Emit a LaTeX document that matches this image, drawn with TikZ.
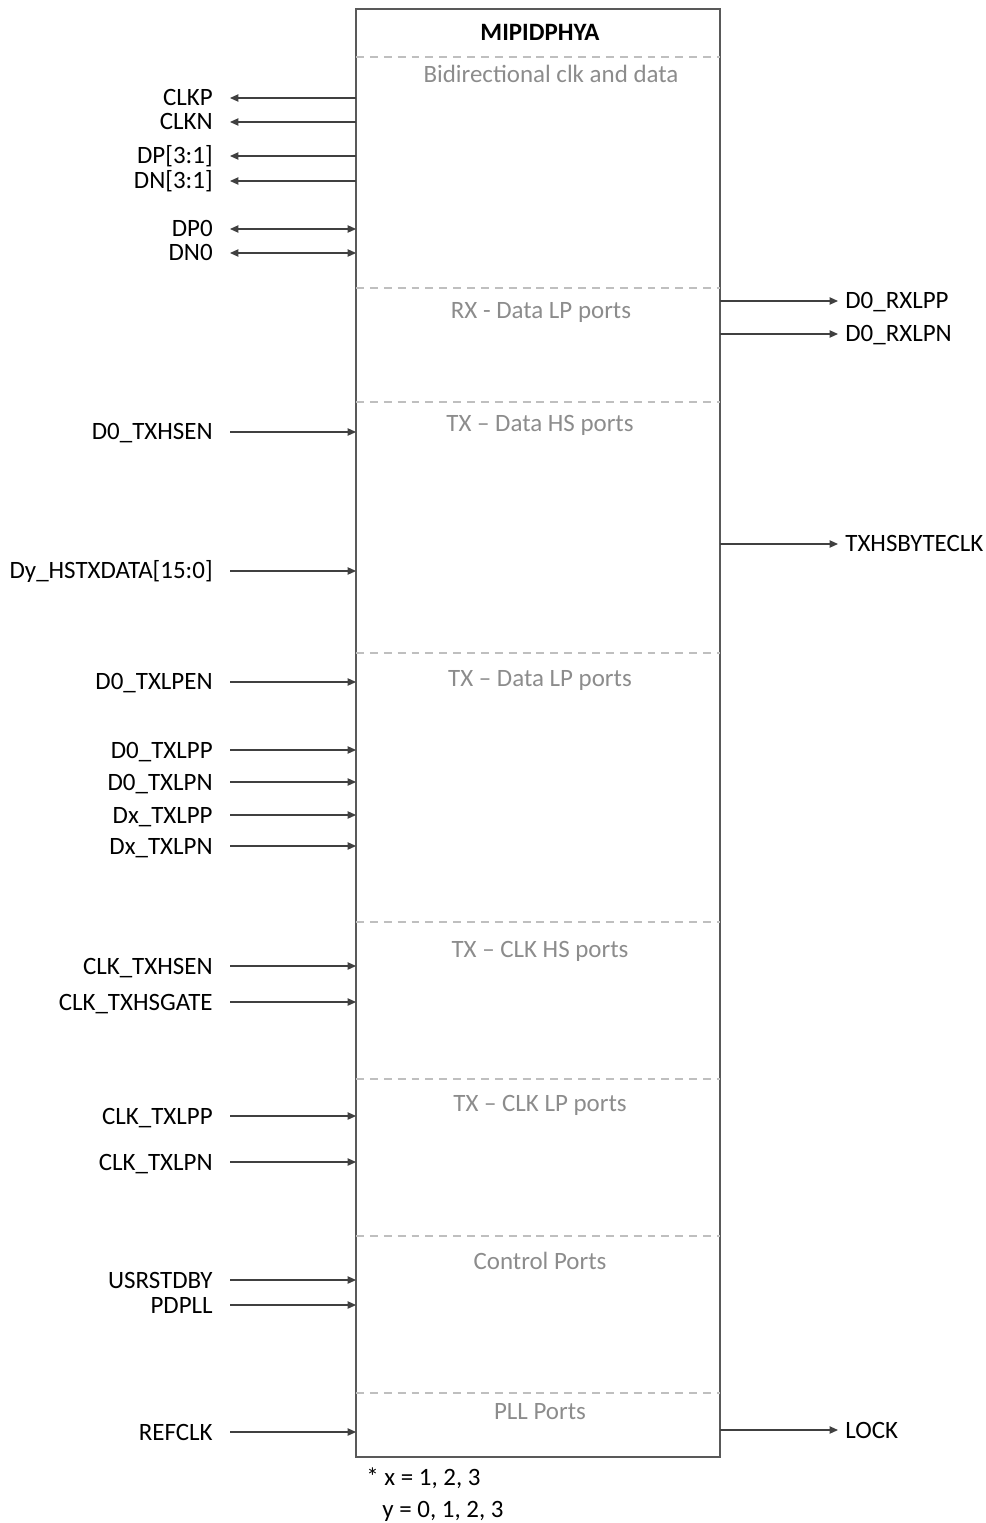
\documentclass[tikz,border=0pt]{standalone}
\usepackage{fontspec}
\setmainfont{Carlito}
\usetikzlibrary{arrows.meta, positioning}

\definecolor{boxline}{HTML}{595959}
\definecolor{sigline}{HTML}{404040}
\definecolor{dashgray}{HTML}{BFBFBF}
\definecolor{secgray}{HTML}{8C8C8C}

\tikzset{
    txt/.style={font=\fontsize{14.2}{16}\selectfont, inner sep=0pt, text height=9.1pt, text depth=0pt},
    lport/.style={txt, anchor=east, inner xsep=0.34cm},
    rport/.style={txt, anchor=west, inner xsep=0.14cm},
    section/.style={txt, text=secgray},
    divider/.style={dashgray, line width=0.8pt, dash pattern=on 4.5pt off 3.4pt},
    sig/.style={sigline, line width=0.7pt, >={Triangle[length=4.8pt, width=4.2pt]}}
}

\begin{document}
\begin{tikzpicture}[x=0.02cm, y=-0.02cm]
        \useasboundingbox (0,0) rectangle (986,1523);

        % The block
        \node[draw=boxline, line width=0.85pt, inner sep=0pt, outer sep=0pt,
              minimum width=7.28cm, minimum height=28.96cm] (phy) at (538,733) {};
        \node[txt, font=\fontsize{14.2}{16}\selectfont\bfseries] (title) at (540,33) {MIPIDPHYA};

        % Sections
        \draw[divider] (phy.west |- 0,57) -- (phy.east |- 0,57);
        \draw[divider] (phy.west |- 0,288) -- (phy.east |- 0,288);
        \draw[divider] (phy.west |- 0,402) -- (phy.east |- 0,402);
        \draw[divider] (phy.west |- 0,653) -- (phy.east |- 0,653);
        \draw[divider] (phy.west |- 0,922) -- (phy.east |- 0,922);
        \draw[divider] (phy.west |- 0,1079) -- (phy.east |- 0,1079);
        \draw[divider] (phy.west |- 0,1236) -- (phy.east |- 0,1236);
        \draw[divider] (phy.west |- 0,1393) -- (phy.east |- 0,1393);

        \node[section] (bidir) at (551,75) {Bidirectional clk and data};
        \node[section] (rxlp) at (541,311) {RX - Data LP ports};
        \node[section] (txhs) at (540,424) {TX -- Data HS ports};
        \node[section] (txlp) at (540,679) {TX -- Data LP ports};
        \node[section] (clkhs) at (540,949) {TX -- CLK HS ports};
        \node[section] (clklp) at (540,1103) {TX -- CLK LP ports};
        \node[section] (ctrl) at (540,1261) {Control Ports};
        \node[section] (pll) at (540,1411) {PLL Ports};

        % Left ports
        \node[lport] (CLKP) at (230,98) {CLKP};
        \node[lport] (CLKN) at (230,122) {CLKN};
        \node[lport] (DPx) at (230,156) {DP[3:1]};
        \node[lport] (DNx) at (230,181) {DN[3:1]};
        \node[lport] (DP0) at (230,229) {DP0};
        \node[lport] (DN0) at (230,253) {DN0};
        \node[lport] (D0TXHSEN) at (230,432) {D0\_TXHSEN};
        \node[lport] (DyHSTXDATA) at (230,571) {Dy\_HSTXDATA[15:0]};
        \node[lport] (D0TXLPEN) at (230,682) {D0\_TXLPEN};
        \node[lport] (D0TXLPP) at (230,750) {D0\_TXLPP};
        \node[lport] (D0TXLPN) at (230,782) {D0\_TXLPN};
        \node[lport] (DxTXLPP) at (230,815) {Dx\_TXLPP};
        \node[lport] (DxTXLPN) at (230,846) {Dx\_TXLPN};
        \node[lport] (CLKTXHSEN) at (230,966) {CLK\_TXHSEN};
        \node[lport] (CLKTXHSGATE) at (230,1002) {CLK\_TXHSGATE};
        \node[lport] (CLKTXLPP) at (230,1116) {CLK\_TXLPP};
        \node[lport] (CLKTXLPN) at (230,1162) {CLK\_TXLPN};
        \node[lport] (USRSTDBY) at (230,1280) {USRSTDBY};
        \node[lport] (PDPLL) at (230,1305) {PDPLL};
        \node[lport] (REFCLK) at (230,1432) {REFCLK};

        % Right ports
        \node[rport] (D0RXLPP) at (838,301) {D0\_RXLPP};
        \node[rport] (D0RXLPN) at (838,334) {D0\_RXLPN};
        \node[rport] (TXHSBYTECLK) at (838,544) {TXHSBYTECLK};
        \node[rport] (LOCK) at (838,1430) {LOCK};

        % Footnote
        \node[txt, anchor=west] (notex) at (366,1477) {* x = 1, 2, 3};
        \node[txt, anchor=west] (notey) at (382,1509) {y = 0, 1, 2, 3};

        \draw[sig]
            (CLKP) edge[<-] (phy.west |- CLKP)
            (CLKN) edge[<-] (phy.west |- CLKN)
            (DPx) edge[<-] (phy.west |- DPx)
            (DNx) edge[<-] (phy.west |- DNx)
            (DP0) edge[<->] (phy.west |- DP0)
            (DN0) edge[<->] (phy.west |- DN0)
            (D0TXHSEN) edge[->] (phy.west |- D0TXHSEN)
            (DyHSTXDATA) edge[->] (phy.west |- DyHSTXDATA)
            (D0TXLPEN) edge[->] (phy.west |- D0TXLPEN)
            (D0TXLPP) edge[->] (phy.west |- D0TXLPP)
            (D0TXLPN) edge[->] (phy.west |- D0TXLPN)
            (DxTXLPP) edge[->] (phy.west |- DxTXLPP)
            (DxTXLPN) edge[->] (phy.west |- DxTXLPN)
            (CLKTXHSEN) edge[->] (phy.west |- CLKTXHSEN)
            (CLKTXHSGATE) edge[->] (phy.west |- CLKTXHSGATE)
            (CLKTXLPP) edge[->] (phy.west |- CLKTXLPP)
            (CLKTXLPN) edge[->] (phy.west |- CLKTXLPN)
            (USRSTDBY) edge[->] (phy.west |- USRSTDBY)
            (PDPLL) edge[->] (phy.west |- PDPLL)
            (REFCLK) edge[->] (phy.west |- REFCLK)
            (phy.east |- D0RXLPP) edge[->] (D0RXLPP)
            (phy.east |- D0RXLPN) edge[->] (D0RXLPN)
            (phy.east |- TXHSBYTECLK) edge[->] (TXHSBYTECLK)
            (phy.east |- LOCK) edge[->] (LOCK);
    \end{tikzpicture}
\end{document}
